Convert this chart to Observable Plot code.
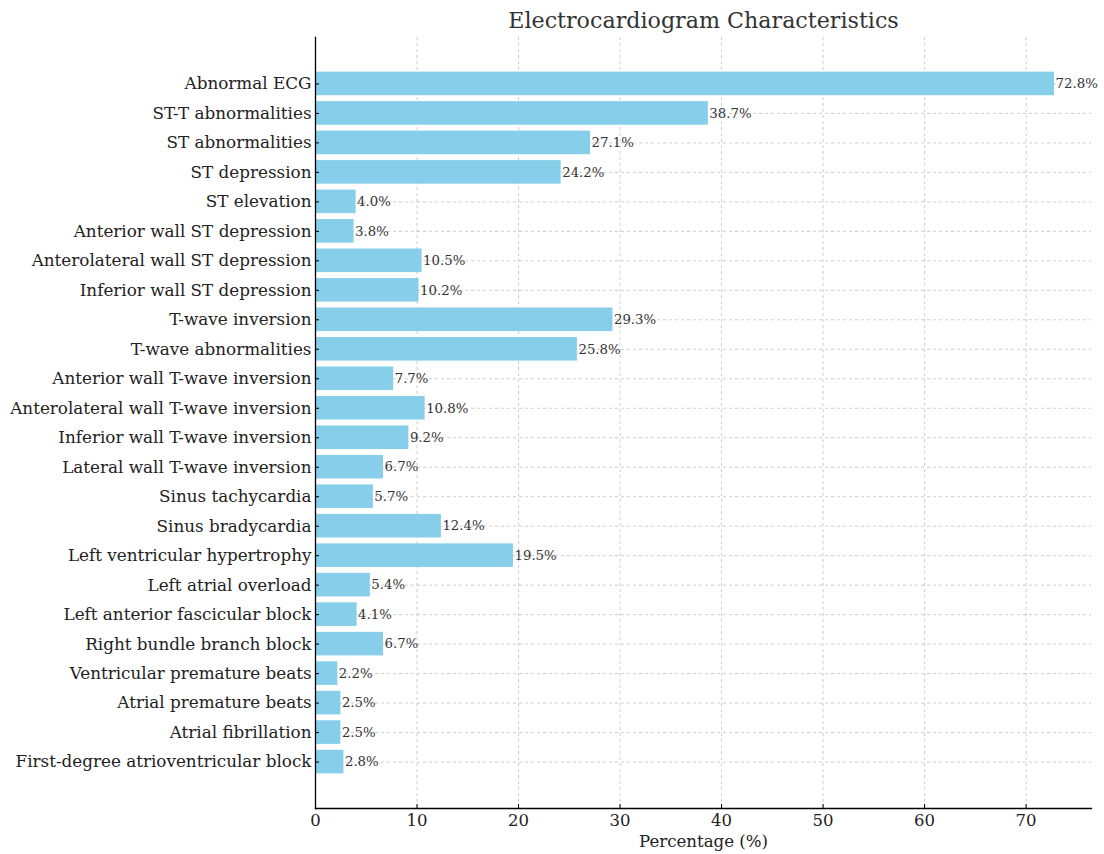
<!DOCTYPE html>
<html>
<head>
<meta charset="utf-8">
<script src="https://cdn.jsdelivr.net/npm/d3@7"></script>
<script src="https://cdn.jsdelivr.net/npm/@observablehq/plot@0.6"></script>
<style>
  html, body { margin: 0; padding: 0; background: #fff; }
  svg { display: block; }
</style>
</head>
<body>
<div id="chart"></div>
<script>
const categories = [
  "Abnormal ECG",
  "ST-T abnormalities",
  "ST abnormalities",
  "ST depression",
  "ST elevation",
  "Anterior wall ST depression",
  "Anterolateral wall ST depression",
  "Inferior wall ST depression",
  "T-wave inversion",
  "T-wave abnormalities",
  "Anterior wall T-wave inversion",
  "Anterolateral wall T-wave inversion",
  "Inferior wall T-wave inversion",
  "Lateral wall T-wave inversion",
  "Sinus tachycardia",
  "Sinus bradycardia",
  "Left ventricular hypertrophy",
  "Left atrial overload",
  "Left anterior fascicular block",
  "Right bundle branch block",
  "Ventricular premature beats",
  "Atrial premature beats",
  "Atrial fibrillation",
  "First-degree atrioventricular block"
];
const values = [72.8, 38.7, 27.1, 24.2, 4.0, 3.8, 10.5, 10.2, 29.3, 25.8, 7.7, 10.8, 9.2, 6.7, 5.7, 12.4, 19.5, 5.4, 4.1, 6.7, 2.2, 2.5, 2.5, 2.8];
const xTicks = [0, 10, 20, 30, 40, 50, 60, 70];
const title = "Electrocardiogram Characteristics";
const xLabel = "Percentage (%)";

const data = categories.map((c, i) => ({category: c, value: values[i]}));
const font = "'DejaVu Serif', serif";

const chart = Plot.plot({
  width: 1104,
  height: 854,
  marginLeft: 315,
  marginRight: 13,
  marginTop: 37,
  marginBottom: 46,
  style: {fontFamily: font, background: "#fff", color: "#222"},
  x: {domain: [0, 76.44], label: null},
  y: {domain: categories, paddingInner: 0.2, paddingOuter: 1.175, align: 0.5, round: false, label: null},
  marks: [
    Plot.gridX(xTicks, {stroke: "#b0b0b0", strokeOpacity: 0.8, strokeDasharray: "3,3", strokeWidth: 0.8}),
    Plot.gridY(categories, {stroke: "#b0b0b0", strokeOpacity: 0.8, strokeDasharray: "3,3", strokeWidth: 0.8}),
    Plot.barX(data, {y: "category", x: "value", fill: "#87CEEB"}),
    Plot.text(data, {y: "category", x: "value", text: d => d.value.toFixed(1) + "%", textAnchor: "start", dx: 1, fontSize: 13.3, fill: "#333", fontFamily: font}),
    Plot.axisY({tickSize: -4, tickPadding: 8, fontSize: 16.8, fill: "#222", stroke: "#000", tickFormat: d => d}),
    Plot.axisX(xTicks, {tickSize: -4, tickPadding: 10, fontSize: 16.5, fill: "#222", stroke: "#000", label: null}),
    Plot.frame({anchor: "left", stroke: "#000", strokeWidth: 1.3}),
    Plot.frame({anchor: "bottom", stroke: "#000", strokeWidth: 1.3}),
    Plot.text([xLabel], {frameAnchor: "bottom", lineAnchor: "middle", dy: 33, fontSize: 16.6, fill: "#222", fontFamily: font}),
    Plot.text([title], {frameAnchor: "top", lineAnchor: "middle", dy: -17, fontSize: 22.2, fill: "#333", fontFamily: font})
  ]
});
document.getElementById("chart").appendChild(chart);
</script>
</body>
</html>
